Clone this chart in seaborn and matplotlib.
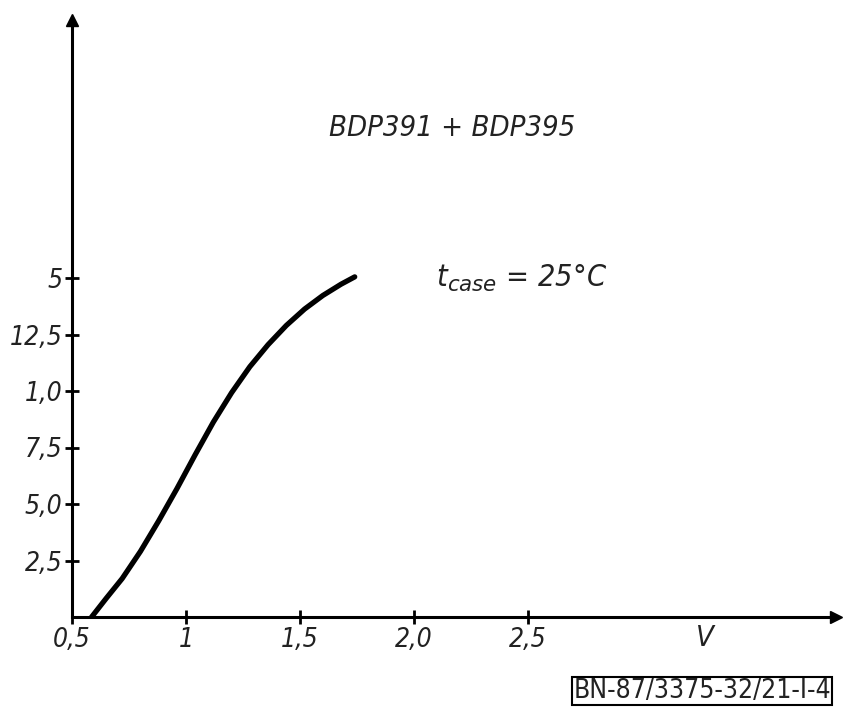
import matplotlib
matplotlib.use("Agg")
import matplotlib.pyplot as plt
import seaborn as sns
import pandas as pd

# Data
voltage = [0.586, 0.65, 0.72, 0.80, 0.88, 0.96, 1.04, 1.12, 1.20, 1.28,
           1.36, 1.44, 1.52, 1.60, 1.68, 1.74]
current = [0.0, 0.33, 0.68, 1.16, 1.70, 2.27, 2.87, 3.45, 3.97, 4.43,
           4.82, 5.16, 5.45, 5.69, 5.89, 6.02]
x_ticks = [0.5, 1.0, 1.5, 2.0, 2.5]
x_labels = ["0,5", "1", "1,5", "2,0", "2,5"]
y_ticks = [1, 2, 3, 4, 5, 6]
y_labels = ["2,5", "5,0", "7,5", "1,0", "12,5", "5"]

df = pd.DataFrame({"V": voltage, "I": current})

sns.set_style("white")
plt.rcParams["font.family"] = ["DejaVu Sans"]

fig = plt.figure(figsize=(8.46, 7.10), dpi=100)
W, H = 846, 710
x0, x1 = 72, 836
y0, y1 = 617, 20
ax = fig.add_axes([x0 / W, 1 - y0 / H, (x1 - x0) / W, (y0 - y1) / H])

sns.lineplot(data=df, x="V", y="I", ax=ax, color="black", linewidth=3.8,
             solid_capstyle="round", solid_joinstyle="round", sort=False)

ax.set_xlim(0.5, 0.5 + (x1 - x0) / 228.0)
ax.set_ylim(0, (y0 - y1) / 56.5)

for s in ["top", "right"]:
    ax.spines[s].set_visible(False)
for s in ["left", "bottom"]:
    ax.spines[s].set_linewidth(2.2)
    ax.spines[s].set_color("black")

# arrow heads
ax.plot(1, 0, ">", color="black", markersize=9, transform=ax.transAxes, clip_on=False)
ax.plot(0, 1, "^", color="black", markersize=8, transform=ax.transAxes, clip_on=False)

fp = dict(family="DejaVu Sans", style="oblique", stretch="condensed")
ax.set_xticks(x_ticks)
ax.set_xticklabels(x_labels, fontsize=19, **fp)
ax.set_yticks(y_ticks)
ax.set_yticklabels(y_labels, fontsize=19, **fp)
ax.tick_params(axis="both", direction="inout", length=10, width=2, color="black",
               labelcolor="#222222", bottom=True, left=True)
ax.tick_params(axis="x", pad=2)
ax.tick_params(axis="y", pad=2)
ax.set_xlabel("")
ax.set_ylabel("")

fig.text(705 / W, 1 - 638 / H, "V", ha="center", va="center", fontsize=21, color="#222222", **fp)
fig.text(452 / W, 1 - 128 / H, "BDP391 + BDP395", ha="center", va="center", fontsize=21, color="#222222", **fp)
fig.text(436 / W, 1 - 278 / H, r"t$_{case}$ = 25°C", ha="left", va="center", fontsize=22, color="#222222",
         family="DejaVu Sans", style="oblique", stretch="condensed")
fig.text(702 / W, 1 - 691 / H, "BN-87/3375-32/21-I-4", ha="center", va="center", fontsize=19,
         color="#222222", family="DejaVu Sans", stretch="condensed",
         bbox=dict(boxstyle="square,pad=0.05", fc="white", ec="black", lw=1.5))

fig.savefig("out.png", dpi=100, facecolor="white")
